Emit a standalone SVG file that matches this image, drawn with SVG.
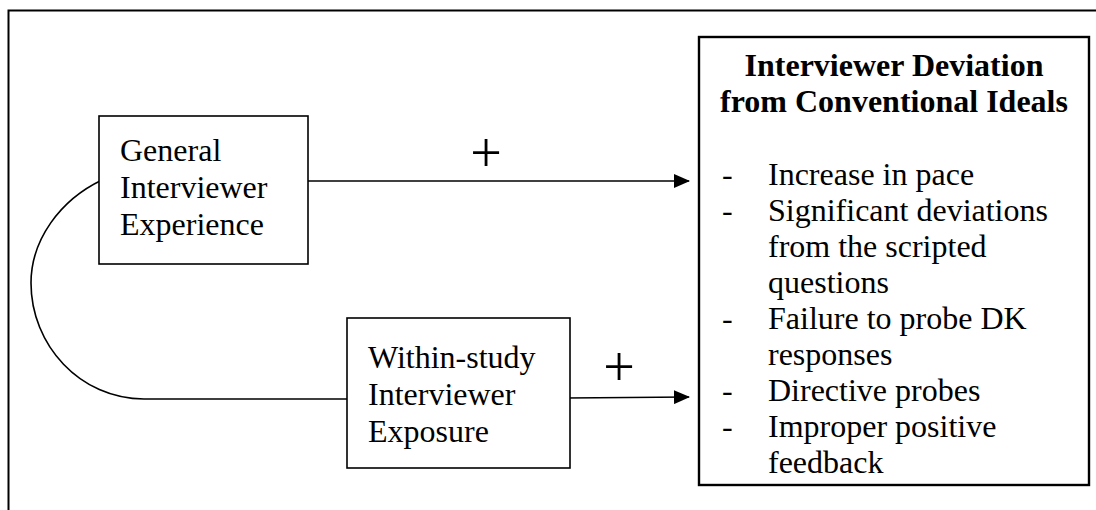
<svg xmlns="http://www.w3.org/2000/svg" width="1096" height="510" viewBox="0 0 1096 510">
  <defs>
    <marker id="arrow" viewBox="0 0 16 14" refX="15" refY="7" markerWidth="16" markerHeight="14" markerUnits="userSpaceOnUse" orient="auto">
      <path d="M0,0 L16,7 L0,14 Z" fill="#000"/>
    </marker>
  </defs>
  <style>
    .box { fill: #fff; stroke: #000; stroke-width: 1.6; }
    .outcome { fill: #fff; stroke: #000; stroke-width: 2.4; }
    .label { font-family: "Liberation Serif", "Times New Roman", serif; font-size: 32px; fill: #000; }
    .title { font-family: "Liberation Serif", "Times New Roman", serif; font-size: 32px; font-weight: bold; fill: #000; text-anchor: middle; }
    .sign { font-family: "Liberation Serif", "Times New Roman", serif; font-size: 56px; fill: #000; text-anchor: middle; }
    .wire { fill: none; stroke: #000; stroke-width: 1.6; }
  </style>
  <rect width="1096" height="510" fill="#fff"/>

  <!-- outer frame: open on the right and bottom -->
  <path d="M8.5,520 L8.5,10.5 L1100,10.5" fill="none" stroke="#000" stroke-width="2"/>

  <!-- connectors -->
  <g id="connectors">
    <path class="wire" d="M102,180 C60,200 31,240 31,283 C31,345 80,399 144,399 L347,399"/>
    <line class="wire" x1="308" y1="181" x2="689" y2="181" marker-end="url(#arrow)"/>
    <line class="wire" x1="567" y1="398" x2="689" y2="397" marker-end="url(#arrow)"/>
    <text class="sign" x="486" y="172">+</text>
    <text class="sign" x="619" y="386">+</text>
  </g>

  <g id="general-experience">
    <rect class="box" x="99" y="116" width="209" height="148"/>
    <text class="label" x="120" y="161">General</text>
    <text class="label" x="120" y="198">Interviewer</text>
    <text class="label" x="120" y="235">Experience</text>
  </g>

  <g id="within-study-exposure">
    <rect class="box" x="347" y="318" width="223" height="150"/>
    <text class="label" x="368" y="368">Within-study</text>
    <text class="label" x="368" y="405">Interviewer</text>
    <text class="label" x="368" y="442">Exposure</text>
  </g>

  <g id="deviation">
    <rect class="outcome" x="699" y="37" width="390" height="448"/>
    <text class="title" x="894" y="76">Interviewer Deviation</text>
    <text class="title" x="894" y="112">from Conventional Ideals</text>
    <g>
      <text class="label" x="722" y="185">-</text>
      <text class="label" x="768" y="185">Increase in pace</text>
      <text class="label" x="722" y="221">-</text>
      <text class="label" x="768" y="221">Significant deviations</text>
      <text class="label" x="768" y="257">from the scripted</text>
      <text class="label" x="768" y="293">questions</text>
      <text class="label" x="722" y="329">-</text>
      <text class="label" x="768" y="329">Failure to probe DK</text>
      <text class="label" x="768" y="365">responses</text>
      <text class="label" x="722" y="401">-</text>
      <text class="label" x="768" y="401">Directive probes</text>
      <text class="label" x="722" y="437">-</text>
      <text class="label" x="768" y="437">Improper positive</text>
      <text class="label" x="768" y="473">feedback</text>
    </g>
  </g>
</svg>
